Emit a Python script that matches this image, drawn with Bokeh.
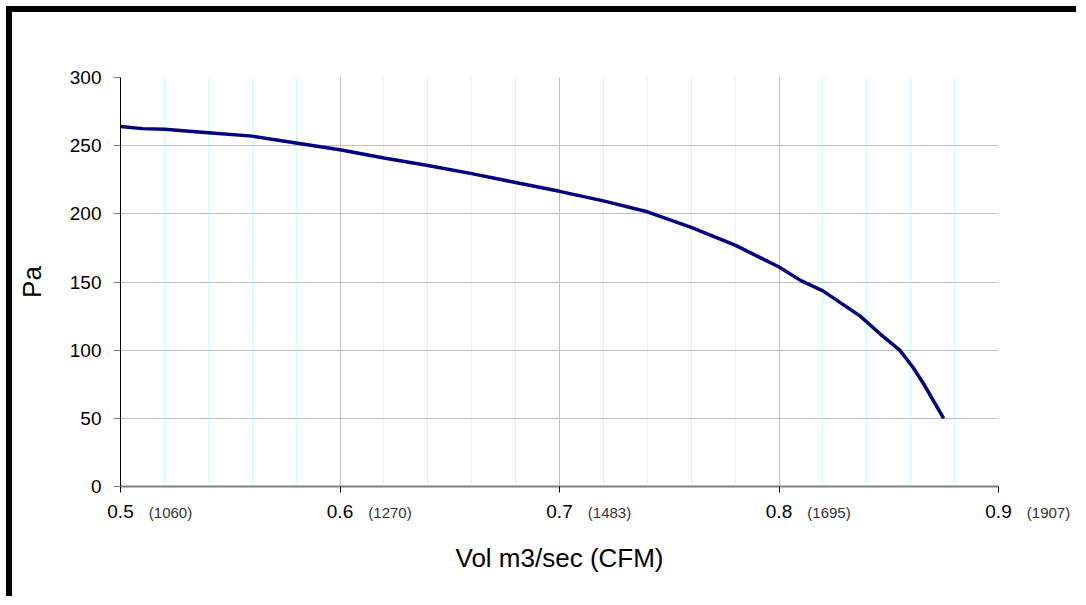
from bokeh.plotting import figure
from bokeh.models import FixedTicker, LinearAxis
from bokeh.embed import file_html
from bokeh.resources import INLINE

# ---- data ----
flow_m3s = [0.500, 0.510, 0.520, 0.540, 0.560, 0.580, 0.600, 0.620, 0.640, 0.660,
            0.680, 0.700, 0.720, 0.740, 0.760, 0.780, 0.800, 0.810, 0.820, 0.837,
            0.846, 0.855, 0.861, 0.866, 0.875]
pressure_pa = [264, 262.5, 262, 259.5, 257, 252, 247, 241, 235.5, 229.5,
               223, 216.5, 209.5, 201.5, 190, 177, 161, 151, 143.5, 125,
               112, 100, 87.5, 75, 50]
x_ticks = [0.5, 0.6, 0.7, 0.8, 0.9]
x_minor = [0.52, 0.54, 0.56, 0.58, 0.62, 0.64, 0.66, 0.68, 0.72, 0.74, 0.76, 0.78,
           0.82, 0.84, 0.86, 0.88]
cfm_labels = ["(1060)", "(1270)", "(1483)", "(1695)", "(1907)"]
y_ticks = [0, 50, 100, 150, 200, 250, 300]

FONT = "Liberation Sans"
NBSP = "\u00a0"

p = figure(width=1070, height=590, x_range=(0.5, 0.9), y_range=(0, 300),
           output_backend="svg", toolbar_location=None,
           min_border_left=108, min_border_top=65, min_border_right=84, min_border_bottom=116)
p.styles = {"border-top": "6px solid black", "border-left": "6px solid black",
            "margin-left": "6px", "margin-top": "6px"}
p.outline_line_color = None
p.background_fill_color = "white"
p.border_fill_color = "white"

# grids
p.xaxis.ticker = FixedTicker(ticks=x_ticks, minor_ticks=x_minor)
p.yaxis.ticker = FixedTicker(ticks=y_ticks, minor_ticks=[])
p.xgrid.grid_line_color = "#c0c0c0"
p.xgrid.grid_line_width = 1
p.xgrid.minor_grid_line_color = "#ccffff"
p.xgrid.minor_grid_line_width = 1
p.ygrid.grid_line_color = "#c0c0c0"
p.ygrid.grid_line_width = 1

# line
p.line(flow_m3s, pressure_pa, line_color="#000080", line_width=3.5)

# main x axis (m3/s)
p.xaxis.axis_line_color = "#808080"
p.xaxis.axis_line_width = 2
p.xaxis.major_tick_line_color = "black"
p.xaxis.major_tick_out = 6
p.xaxis.major_tick_in = 0
p.xaxis.minor_tick_line_color = None
p.xaxis.major_label_text_font = FONT
p.xaxis.major_label_text_font_size = "19px"
p.xaxis.major_label_text_color = "black"
p.xaxis.major_label_standoff = 12

# secondary x axis (CFM equivalents), labels sit beside the main ones
cfm_axis = LinearAxis(ticker=FixedTicker(ticks=x_ticks, minor_ticks=[]))
cfm_axis.major_label_overrides = {t: NBSP * 24 + lab for t, lab in zip(x_ticks, cfm_labels)}
cfm_axis.axis_line_color = None
cfm_axis.major_tick_line_color = None
cfm_axis.minor_tick_line_color = None
cfm_axis.major_tick_out = 0
cfm_axis.major_tick_in = 0
cfm_axis.major_label_text_font = FONT
cfm_axis.major_label_text_font_size = "15px"
cfm_axis.major_label_text_color = "#333333"
cfm_axis.major_label_standoff = -17
cfm_axis.axis_label = "Vol m3/sec (CFM)"
cfm_axis.axis_label_text_font = FONT
cfm_axis.axis_label_text_font_size = "26px"
cfm_axis.axis_label_text_color = "black"
cfm_axis.axis_label_text_font_style = "normal"
cfm_axis.axis_label_standoff = 19
p.add_layout(cfm_axis, "below")

p.yaxis.axis_line_color = "black"
p.yaxis.axis_line_width = 1
p.yaxis.major_tick_line_color = "#808080"
p.yaxis.major_tick_out = 7
p.yaxis.major_tick_in = 0
p.yaxis.minor_tick_line_color = None
p.yaxis.major_label_text_font = FONT
p.yaxis.major_label_text_font_size = "19px"
p.yaxis.major_label_text_color = "black"
p.yaxis.major_label_standoff = 12
p.yaxis.axis_label = "Pa"
p.yaxis.axis_label_text_font = FONT
p.yaxis.axis_label_text_font_size = "26px"
p.yaxis.axis_label_text_color = "black"
p.yaxis.axis_label_text_font_style = "normal"
p.yaxis.axis_label_standoff = 20

open("out.html", "w").write(file_html(p, INLINE))
